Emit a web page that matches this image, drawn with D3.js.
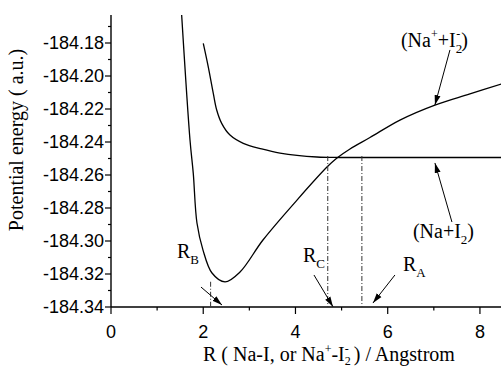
<!DOCTYPE html>
<html>
<head>
<meta charset="utf-8">
<script src="https://cdn.jsdelivr.net/npm/d3@7"></script>
<style>
  body { margin: 0; background: #fff; }
  svg { display: block; }
  .tick-label { font-family: "Liberation Sans", Arial, sans-serif; font-size: 18px; fill: #000; }
  .serif { font-family: "Liberation Serif", "Times New Roman", "DejaVu Serif", serif; font-size: 20px; fill: #000; }
</style>
</head>
<body>
<svg id="chart"></svg>
<script>
const width = 501;
const height = 367;

// ionic curve (Na+ + I2-) : [R, energy]
const ionicCurve = [
  [1.532, -184.163], [1.713, -184.2388], [1.784, -184.2590], [1.864, -184.2891],
  [1.995, -184.3055], [2.190, -184.3194], [2.472, -184.3248], [2.797, -184.3188],
  [3.295, -184.2994], [4.033, -184.2752], [4.683, -184.2552], [4.900, -184.2497],
  [5.182, -184.2442], [5.615, -184.2373], [6.265, -184.2267], [7.024, -184.2176],
  [7.783, -184.2109], [8.500, -184.2045]
];

// neutral curve (Na + I2) : [R, energy]
const neutralCurve = [
  [2.001, -184.1802], [2.109, -184.1944], [2.218, -184.2105], [2.292, -184.2206],
  [2.400, -184.2287], [2.580, -184.2358], [2.868, -184.2408], [3.267, -184.2442],
  [3.664, -184.2467], [4.466, -184.2491], [4.965, -184.2494], [6.000, -184.2494],
  [8.500, -184.2494]
];

// vertical dash-dot markers
const markers = [
  { name: "B", r: 2.16, top: -184.3247 },
  { name: "C", r: 4.70, top: -184.2485 },
  { name: "A", r: 5.44, top: -184.2485 }
];

// arrows [from, to] in data units
const arrows = [
  [[1.951, -184.3279], [2.407, -184.3388]],
  [[4.401, -184.3206], [4.813, -184.3398]],
  [[6.157, -184.3206], [5.680, -184.3376]],
  [[7.35, -184.1842], [7.024, -184.2176]],
  [[7.393, -184.2885], [7.024, -184.2527]]
];

const xTicks = [0, 2, 4, 6, 8];
const yTicks = [-184.34, -184.32, -184.30, -184.28, -184.26, -184.24, -184.22, -184.20, -184.18];

const x = d3.scaleLinear().domain([0, 8.5]).range([111, 503]);
const y = d3.scaleLinear().domain([-184.34, -184.18]).range([307, 43]);
const yTop = 15;

const svg = d3.select("#chart")
  .attr("width", width)
  .attr("height", height)
  .attr("viewBox", [0, 0, width, height]);

svg.append("defs").append("clipPath").attr("id", "plot")
  .append("rect").attr("x", 111).attr("y", yTop).attr("width", 390).attr("height", 307 - yTop);

svg.select("defs").append("marker")
  .attr("id", "head")
  .attr("markerUnits", "userSpaceOnUse")
  .attr("viewBox", "0 -4 10 8")
  .attr("refX", 10).attr("refY", 0)
  .attr("markerWidth", 10).attr("markerHeight", 8)
  .attr("orient", "auto")
  .append("path").attr("d", "M0,-3L10,0L0,3Z").attr("fill", "#000");

// axes
const xAxis = svg.append("g").attr("transform", "translate(0,307)");
xAxis.append("line").attr("x1", 111).attr("x2", 501).attr("stroke", "#000").attr("stroke-width", 1.4);
xAxis.selectAll("line.maj").data(d3.range(0, 9, 1)).join("line")
  .attr("x1", d => x(d)).attr("x2", d => x(d))
  .attr("y1", 0).attr("y2", d => d % 2 === 0 ? 7 : 3.5)
  .attr("stroke", "#000").attr("stroke-width", 1.2);
xAxis.selectAll("text").data(xTicks).join("text")
  .attr("class", "tick-label")
  .attr("x", d => x(d)).attr("y", 31)
  .attr("text-anchor", "middle")
  .text(d => d);

const yAxis = svg.append("g");
yAxis.append("line").attr("x1", 111).attr("x2", 111).attr("y1", yTop).attr("y2", 307)
  .attr("stroke", "#000").attr("stroke-width", 1.4);
const yMinor = d3.range(0, 18).map(i => -184.34 + i * 0.01).filter(v => y(v) >= yTop);
yAxis.selectAll("line.t").data(yMinor).join("line")
  .attr("x1", (d, i) => i % 2 === 0 ? 105 : 108).attr("x2", 111)
  .attr("y1", d => y(d)).attr("y2", d => y(d))
  .attr("stroke", "#000").attr("stroke-width", 1.2);
yAxis.selectAll("text").data(yTicks).join("text")
  .attr("class", "tick-label")
  .attr("x", 104).attr("y", d => y(d))
  .attr("dy", "0.36em")
  .attr("text-anchor", "end")
  .text(d => d.toFixed(2));

// axis titles
svg.append("text").attr("class", "serif")
  .attr("transform", "translate(23,140) rotate(-90)")
  .attr("text-anchor", "middle")
  .text("Potential energy ( a.u.)");

const xt = svg.append("text").attr("class", "serif")
  .attr("x", 203).attr("y", 361);
xt.append("tspan").text("R ( Na-I, or Na");
xt.append("tspan").attr("font-size", 12).attr("dy", -8).text("+");
xt.append("tspan").attr("dy", 8).text("-I");
xt.append("tspan").attr("font-size", 12).attr("dy", 4).text("2");
xt.append("tspan").attr("font-size", 12).attr("dx", -6).attr("dy", -12).text("-");
xt.append("tspan").attr("dy", 8).text(" ) / Angstrom");

// curves
const line = d3.line().x(d => x(d[0])).y(d => y(d[1])).curve(d3.curveCatmullRom.alpha(0.5));
const g = svg.append("g").attr("clip-path", "url(#plot)");
[ionicCurve, neutralCurve].forEach(c => {
  g.append("path").datum(c)
    .attr("d", line)
    .attr("fill", "none")
    .attr("stroke", "#000")
    .attr("stroke-width", 1.3);
});

// dash-dot markers
g.selectAll("line.mk").data(markers).join("line")
  .attr("x1", d => x(d.r)).attr("x2", d => x(d.r))
  .attr("y1", d => y(d.top)).attr("y2", 307)
  .attr("stroke", "#333").attr("stroke-width", 1)
  .attr("stroke-dasharray", "5,2,1,2");

// arrows
svg.selectAll("line.arrow").data(arrows).join("line")
  .attr("x1", d => x(d[0][0])).attr("y1", d => y(d[0][1]))
  .attr("x2", d => x(d[1][0])).attr("y2", d => y(d[1][1]))
  .attr("stroke", "#000").attr("stroke-width", 1)
  .attr("marker-end", "url(#head)");

// R labels
const rLabels = [
  { name: "B", r: 1.431, e: -184.3103 },
  { name: "C", r: 4.163, e: -184.3127 },
  { name: "A", r: 6.331, e: -184.3182 }
];
rLabels.forEach(d => {
  const t = svg.append("text").attr("class", "serif").attr("x", x(d.r)).attr("y", y(d.e));
  t.append("tspan").text("R");
  t.append("tspan").attr("font-size", 13).attr("dy", 6).text(d.name);
});

// species labels
const ion = svg.append("text").attr("class", "serif").attr("x", x(6.287)).attr("y", y(-184.1824));
ion.append("tspan").text("(Na");
ion.append("tspan").attr("font-size", 12).attr("dy", -9).text("+");
ion.append("tspan").attr("dy", 9).text("+I");
ion.append("tspan").attr("font-size", 13).attr("dy", 6).text("2");
ion.append("tspan").attr("font-size", 12).attr("dx", -6).attr("dy", -15).text("-");
ion.append("tspan").attr("dx", 1).attr("dy", 9).text(")");

const neu = svg.append("text").attr("class", "serif").attr("x", x(6.547)).attr("y", y(-184.2982));
neu.append("tspan").text("(Na+I");
neu.append("tspan").attr("font-size", 13).attr("dy", 6).text("2");
neu.append("tspan").attr("dy", -6).text(")");
</script>
</body>
</html>
